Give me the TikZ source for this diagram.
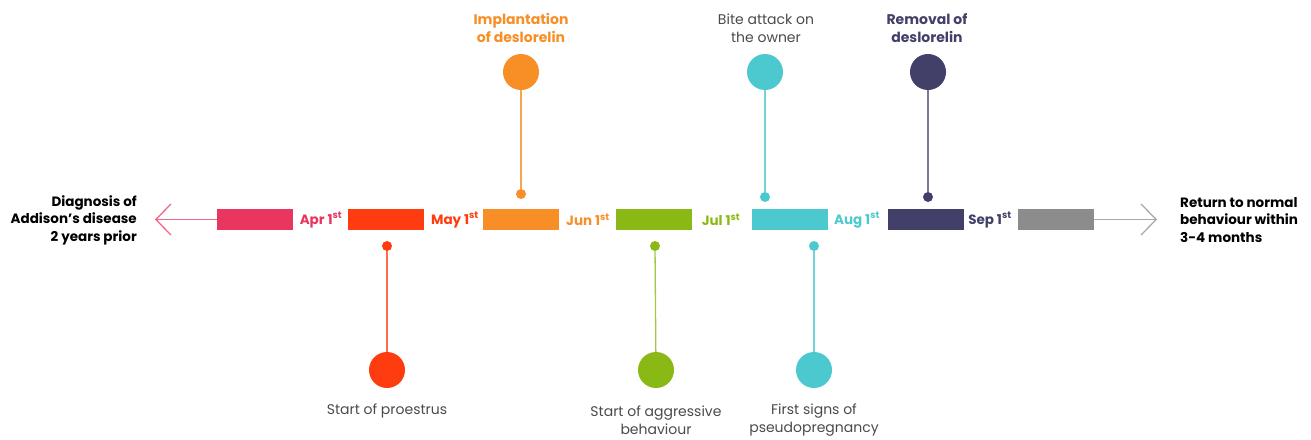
\documentclass[tikz,border=0pt]{standalone}
\usepackage{fontspec}
\setmainfont{Poppins}
\usetikzlibrary{arrows.meta}
\definecolor{cpink}{HTML}{E8365F}
\definecolor{cred}{HTML}{FF3B10}
\definecolor{corange}{HTML}{F78E26}
\definecolor{cgreen}{HTML}{8AB915}
\definecolor{cteal}{HTML}{4CC9CF}
\definecolor{cnavy}{HTML}{423F68}
\definecolor{cgray}{HTML}{8C8C8C}
\definecolor{ctext}{HTML}{4A4A4A}
\tikzset{
  bar/.style={rectangle, inner sep=0pt, minimum height=21pt, minimum width=76pt},
  big/.style={circle, inner sep=0pt, minimum size=36pt},
  dot/.style={circle, inner sep=0pt, minimum size=10pt},
  month/.style={font=\fontsize{13.5}{15}\selectfont\bfseries, inner sep=0pt},
  evt/.style={font=\fontsize{14}{18.5}\selectfont, align=center, text=ctext, inner sep=0pt},
  evtb/.style={font=\fontsize{14}{18.5}\selectfont\bfseries, align=center, inner sep=0pt},
  side/.style={font=\fontsize{13.5}{17.5}\selectfont\bfseries, inner sep=0pt},
  stem/.style={line width=1.3pt},
  chev/.style={line width=1.3pt, -{Straight Barb[length=15pt,width=31pt,line width=1.3pt]}},
}
\begin{document}
\begin{tikzpicture}[x=1pt,y=-1pt]
\useasboundingbox (0,0) rectangle (1311,439);
% bars
\node[bar, fill=cpink] (b1) at (255,219.5) {};
\node[bar, fill=cred] (b2) at (386,219.5) {};
\node[bar, fill=corange] (b3) at (520.5,219.5) {};
\node[bar, fill=cgreen] (b4) at (654,219.5) {};
\node[bar, fill=cteal] (b5) at (789.5,219.5) {};
\node[bar, fill=cnavy] (b6) at (926,219.5) {};
\node[bar, fill=cgray] (b7) at (1055.5,219.5) {};
% month labels
\node[month, text=cpink] (m1) at (321,220) {Apr 1\textsuperscript{st}};
\node[month, text=cred] (m2) at (455,220) {May 1\textsuperscript{st}};
\node[month, text=corange] (m3) at (588,220) {Jun 1\textsuperscript{st}};
\node[month, text=cgreen] (m4) at (721,220) {Jul 1\textsuperscript{st}};
\node[month, text=cteal] (m5) at (857,220) {Aug 1\textsuperscript{st}};
\node[month, text=cnavy] (m6) at (990,220) {Sep 1\textsuperscript{st}};
% side arrows
\coordinate (lt) at (155,219.5);
\coordinate (rt) at (1157,219.5);
\draw[chev, draw=cpink!75] (b1.west) -- (lt);
\draw[chev, draw=cgray!75] (b7.east) -- (rt);
\node[side, anchor=east, align=right] (ltxt) at (137,220) {Diagnosis of\\Addison’s disease\\2 years prior};
\node[side, anchor=west, align=left] (rtxt) at (1180,220) {Return to normal\\behaviour within\\3-4 months};
% top events
\node[big, fill=corange] (c1) at (521,72) {};
\node[dot, fill=corange] (d1) at (521,194) {};
\draw[stem, corange!80] (c1) -- (d1);
\node[evtb, text=corange] (t1) at (521,28) {Implantation\\of deslorelin};
\node[big, fill=cteal] (c2) at (765,72) {};
\node[dot, fill=cteal] (d2) at (765,197) {};
\draw[stem, cteal!80] (c2) -- (d2);
\node[evt] (t2) at (766,28) {Bite attack on\\the owner};
\node[big, fill=cnavy] (c3) at (928,72) {};
\node[dot, fill=cnavy] (d3) at (928,197) {};
\draw[stem, cnavy!70] (c3) -- (d3);
\node[evtb, text=cnavy] (t3) at (927,28) {Removal of\\deslorelin};
% bottom events
\node[dot, fill=cred] (d4) at (387,246) {};
\node[big, fill=cred] (c4) at (387,370) {};
\draw[stem, cred!75] (d4) -- (c4);
\node[evt] (t4) at (387,411) {Start of proestrus};
\node[dot, fill=cgreen] (d5) at (655,246) {};
\node[big, fill=cgreen] (c5) at (656,370) {};
\draw[stem, cgreen!80] (d5) -- (c5);
\node[evt] (t5) at (656,420) {Start of aggressive\\behaviour};
\node[dot, fill=cteal] (d6) at (814,246) {};
\node[big, fill=cteal] (c6) at (814,370) {};
\draw[stem, cteal!80] (d6) -- (c6);
\node[evt] (t6) at (814,420) {First signs of\\pseudopregnancy};
\end{tikzpicture}
\end{document}
